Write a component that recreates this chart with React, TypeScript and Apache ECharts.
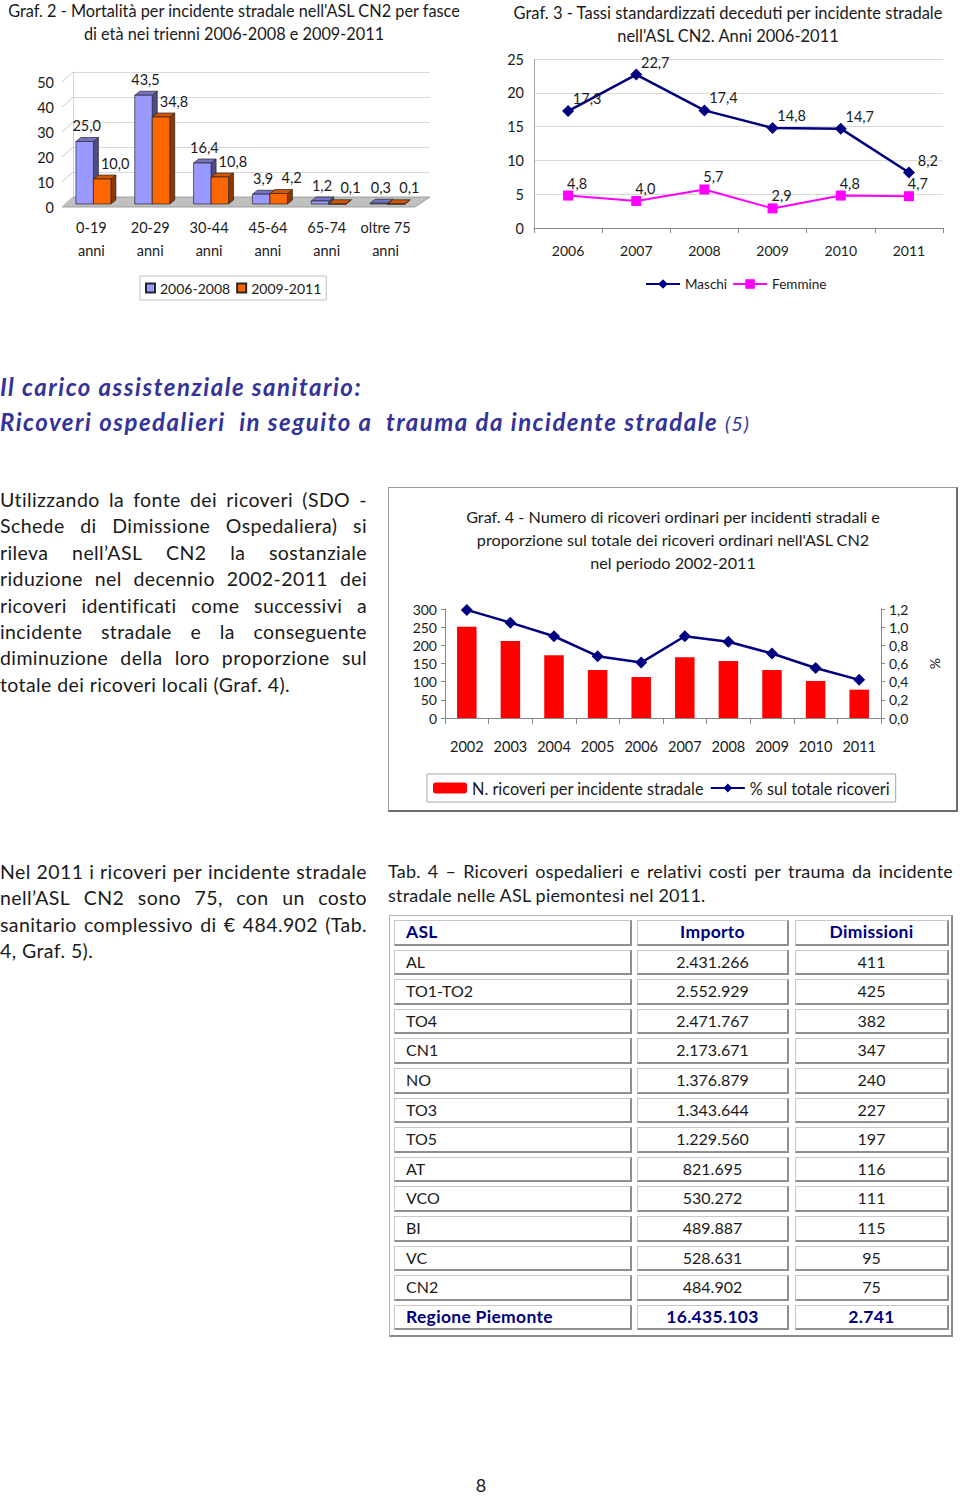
import React, { useEffect, useRef } from "react";
import * as echarts from "echarts";

const FONT = "Lato, 'Open Sans', sans-serif";
const TXT = "#1a1a1a";

// ---------- Graf. 2 ----------
const ageBands = ["0-19\nanni", "20-29\nanni", "30-44\nanni", "45-64\nanni", "65-74\nanni", "oltre 75\nanni"];
const mort0608 = [25.0, 43.5, 16.4, 3.9, 1.2, 0.3];
const mort0911 = [10.0, 34.8, 10.8, 4.2, 0.1, 0.1];
const mortTicks = [0, 10, 20, 30, 40, 50];

// ---------- Graf. 3 ----------
const years3 = ["2006", "2007", "2008", "2009", "2010", "2011"];
const maschi = [17.3, 22.7, 17.4, 14.8, 14.7, 8.2];
const femmine = [4.8, 4.0, 5.7, 2.9, 4.8, 4.7];

// ---------- Graf. 4 ----------
const years4 = ["2002", "2003", "2004", "2005", "2006", "2007", "2008", "2009", "2010", "2011"];
const ricoveri = [251, 212, 173, 132, 113, 167, 157, 132, 102, 78];
const percTotale = [1.19, 1.05, 0.9, 0.68, 0.61, 0.9, 0.84, 0.71, 0.55, 0.42];

// ---------- Tab. 4 ----------
const tabHeader = ["ASL", "Importo", "Dimissioni"];
const aslNames = ["AL", "TO1-TO2", "TO4", "CN1", "NO", "TO3", "TO5", "AT", "VCO", "BI", "VC", "CN2"];
const importi = [2431266, 2552929, 2471767, 2173671, 1376879, 1343644, 1229560, 821695, 530272, 489887, 528631, 484902];
const dimissioni = [411, 425, 382, 347, 240, 227, 197, 116, 111, 115, 95, 75];
const totName = "Regione Piemonte";
const totImporto = 16435103;
const totDimissioni = 2741;

// ---------- Testi ----------
const headingLine1 = "Il carico assistenziale sanitario:";
const headingLine2 = "Ricoveri ospedalieri\u00a0 in seguito a\u00a0 trauma da incidente stradale";
const headingNote = "(5)";
const para1 = [
  "Utilizzando la fonte dei ricoveri (SDO -",
  "Schede di Dimissione Ospedaliera) si",
  "rileva nell\u2019ASL CN2 la sostanziale",
  "riduzione nel decennio 2002-2011 dei",
  "ricoveri identificati come successivi a",
  "incidente stradale e la conseguente",
  "diminuzione della loro proporzione sul",
  "totale dei ricoveri locali (Graf. 4).",
];
const para2 = [
  "Nel 2011 i ricoveri per incidente stradale",
  "nell\u2019ASL CN2 sono 75, con un costo",
  "sanitario complessivo di \u20ac 484.902 (Tab.",
  "4, Graf. 5).",
];
const caption = [
  "Tab. 4 \u2013 Ricoveri ospedalieri e relativi costi per trauma da incidente",
  "stradale nelle ASL piemontesi nel 2011.",
];
const pageNumber = "8";

const comma = (v: number, d = 1) => v.toFixed(d).replace(".", ",");
const thousands = (n: number) => String(n).replace(/\B(?=(\d{3})+(?!\d))/g, ".");

// ---------- 3D bars for Graf. 2 ----------
const BAR_W = 17.5;
const DEPTH_X = 5;
const DEPTH_Y = 4;
const SHIFT_X = 2;
const SHIFT_Y = 3;

function make3dRender(first: boolean, front: string, top: string, side: string) {
  return (params: any, api: any) => {
    const i = api.value(0);
    const v = api.value(1);
    const pt = api.coord([i, v]);
    const base = api.coord([i, 0]);
    const xl = pt[0] + SHIFT_X - (first ? BAR_W : 0);
    const xr = xl + BAR_W;
    const yt = pt[1] - SHIFT_Y;
    const yb = base[1] - SHIFT_Y;
    const ln = { stroke: "#262626", lineWidth: 0.7 };
    return {
      type: "group",
      children: [
        {
          type: "polygon",
          shape: { points: [[xr, yt], [xr + DEPTH_X, yt - DEPTH_Y], [xr + DEPTH_X, yb - DEPTH_Y], [xr, yb]] },
          style: { fill: side, ...ln },
        },
        {
          type: "polygon",
          shape: { points: [[xl, yt], [xl + DEPTH_X, yt - DEPTH_Y], [xr + DEPTH_X, yt - DEPTH_Y], [xr, yt]] },
          style: { fill: top, ...ln },
        },
        {
          type: "rect",
          shape: { x: xl, y: yt, width: BAR_W, height: Math.max(yb - yt, 0.6) },
          style: { fill: front, ...ln },
        },
        {
          type: "text",
          x: (xl + xr) / 2 + (first ? 2 : 13),
          y: yt - 16,
          style: {
            text: comma(v),
            fill: TXT,
            fontSize: 14.5,
            fontFamily: FONT,
            textAlign: "center",
            textVerticalAlign: "middle",
          },
        },
      ],
    };
  };
}

const wallRender = (params: any, api: any) => {
  const cs = params.coordSys;
  const v = api.value(1);
  const y = api.coord([0, v])[1];
  const children: any[] = [];
  if (params.dataIndex === 0) {
    children.push({
      type: "polygon",
      shape: {
        points: [
          [cs.x, y],
          [cs.x + cs.width, y],
          [cs.x + cs.width + 15, y - 10],
          [cs.x + 11, y - 10],
        ],
      },
      style: { fill: "#c0c0c0", stroke: "#a0a0a0", lineWidth: 1 },
    });
  }
  children.push({
    type: "line",
    shape: { x1: cs.x, y1: y, x2: cs.x + 11, y2: y - 10 },
    style: { stroke: "#c8c8c8", lineWidth: 1 },
  });
  return { type: "group", children };
};

const graf2Option: any = {
  animation: false,
  textStyle: { fontFamily: FONT },
  title: {
    text: "Graf. 2 - Mortalit\u00e0 per incidente stradale nell'ASL CN2 per fasce\ndi et\u00e0 nei trienni 2006-2008 e 2009-2011",
    left: 234,
    top: -1,
    padding: 0,
    textAlign: "center",
    textStyle: { fontSize: 16.3, lineHeight: 23, fontWeight: "normal", color: TXT, fontFamily: FONT },
  },
  grid: [
    { left: 62, top: 82, width: 353, height: 125 },
    { left: 73, top: 72, width: 357, height: 125 },
  ],
  xAxis: [
    {
      type: "category",
      gridIndex: 0,
      data: ageBands,
      axisLine: { show: false },
      axisTick: { show: false },
      axisLabel: { interval: 0, fontSize: 14.5, lineHeight: 23, color: TXT, margin: 9 },
    },
    { type: "category", gridIndex: 1, data: ageBands, show: false },
  ],
  yAxis: [
    {
      type: "value",
      gridIndex: 0,
      min: 0,
      max: 50,
      interval: 10,
      axisLine: { show: false },
      axisTick: { show: false },
      splitLine: { show: false },
      axisLabel: { fontSize: 14.5, color: TXT, margin: 8 },
    },
    {
      type: "value",
      gridIndex: 1,
      min: 0,
      max: 50,
      interval: 10,
      axisLine: { show: true, lineStyle: { color: "#d0d0d0" } },
      axisTick: { show: false },
      axisLabel: { show: false },
      splitLine: { show: true, lineStyle: { color: "#d9d9d9" } },
    },
  ],
  legend: {
    left: 140,
    top: 276,
    padding: [5, 5],
    borderColor: "#bfbfbf",
    borderWidth: 1,
    itemWidth: 9,
    itemHeight: 9,
    itemGap: 6,
    textStyle: { fontSize: 14, color: TXT },
    data: [
      { name: "2006-2008", icon: "rect" },
      { name: "2009-2011", icon: "rect" },
    ],
  },
  series: [
    {
      type: "custom",
      name: "wall",
      xAxisIndex: 0,
      yAxisIndex: 0,
      silent: true,
      clip: false,
      z: 1,
      data: mortTicks.map((t) => [0, t]),
      renderItem: wallRender,
    },
    {
      type: "custom",
      name: "2006-2008",
      xAxisIndex: 0,
      yAxisIndex: 0,
      clip: false,
      z: 2,
      itemStyle: { color: "#9999ff", borderColor: "#262626", borderWidth: 0.8 },
      encode: { x: 0, y: 1 },
      data: mort0608.map((v, i) => [i, v]),
      renderItem: make3dRender(true, "#9999ff", "#7474c4", "#4d4d85"),
    },
    {
      type: "custom",
      name: "2009-2011",
      xAxisIndex: 0,
      yAxisIndex: 0,
      clip: false,
      z: 3,
      itemStyle: { color: "#ff6600", borderColor: "#262626", borderWidth: 0.8 },
      encode: { x: 0, y: 1 },
      data: mort0911.map((v, i) => [i, v]),
      renderItem: make3dRender(false, "#ff6600", "#d45500", "#8c3800"),
    },
  ],
};

const graf3Option: any = {
  animation: false,
  textStyle: { fontFamily: FONT },
  title: {
    text: "Graf. 3 - Tassi standardizzati deceduti per incidente stradale\nnell'ASL CN2. Anni 2006-2011",
    left: 248,
    top: 1,
    padding: 0,
    textAlign: "center",
    textStyle: { fontSize: 16.5, lineHeight: 23, fontWeight: "normal", color: TXT, fontFamily: FONT },
  },
  grid: { left: 54, right: 17, top: 59, bottom: 82 },
  xAxis: {
    type: "category",
    data: years3,
    axisLine: { lineStyle: { color: "#868686" } },
    axisTick: { show: true, length: 5, lineStyle: { color: "#868686" } },
    axisLabel: { interval: 0, fontSize: 14, color: TXT, margin: 15 },
  },
  yAxis: {
    type: "value",
    min: 0,
    max: 25,
    interval: 5,
    axisLine: { show: true, lineStyle: { color: "#a6a6a6" } },
    axisTick: { show: false },
    splitLine: { lineStyle: { color: "#d9d9d9" } },
    axisLabel: { fontSize: 14.5, color: TXT, margin: 10 },
  },
  legend: {
    left: 165,
    top: 277,
    padding: 0,
    itemWidth: 34,
    itemHeight: 12,
    itemGap: 5,
    textStyle: { fontSize: 13.5, color: TXT },
    data: ["Maschi", "Femmine"],
  },
  series: [
    {
      name: "Maschi",
      type: "line",
      data: maschi,
      color: "#000080",
      lineStyle: { width: 2.5 },
      symbol: "diamond",
      symbolSize: 12,
      label: {
        show: true,
        position: "top",
        distance: 0,
        offset: [19, 1],
        fontSize: 14.5,
        color: TXT,
        formatter: (p: any) => comma(p.value),
      },
    },
    {
      name: "Femmine",
      type: "line",
      data: femmine,
      color: "#ff00ff",
      lineStyle: { width: 2 },
      symbol: "rect",
      symbolSize: 10,
      label: {
        show: true,
        position: "top",
        distance: 0,
        offset: [9, 0],
        fontSize: 14.5,
        color: TXT,
        formatter: (p: any) => comma(p.value),
      },
    },
  ],
};

const graf4Option: any = {
  animation: false,
  textStyle: { fontFamily: FONT },
  title: {
    text:
      "Graf. 4 - Numero di ricoveri ordinari per incidenti stradali e\nproporzione sul totale dei ricoveri ordinari nell'ASL CN2\nnel periodo 2002-2011",
    left: 285,
    top: 19,
    padding: 0,
    textAlign: "center",
    textStyle: { fontSize: 16.2, lineHeight: 23, fontWeight: "normal", color: TXT, fontFamily: FONT },
  },
  grid: { left: 57, right: 77, top: 123, bottom: 96 },
  legend: {
    left: 39,
    top: 288,
    padding: [6, 6],
    borderColor: "#a6a6a6",
    borderWidth: 1,
    itemWidth: 34,
    itemHeight: 11,
    itemGap: 6,
    textStyle: { fontSize: 16.3, color: TXT },
    data: ["N. ricoveri per incidente stradale", "% sul totale ricoveri"],
  },
  xAxis: {
    type: "category",
    data: years4,
    axisLine: { lineStyle: { color: "#868686" } },
    axisTick: { show: true, length: 6, lineStyle: { color: "#868686" } },
    axisLabel: { interval: 0, fontSize: 14.5, color: TXT, margin: 21 },
  },
  yAxis: [
    {
      type: "value",
      min: 0,
      max: 300,
      interval: 50,
      axisLine: { show: true, lineStyle: { color: "#868686" } },
      axisTick: { show: true, length: 4, lineStyle: { color: "#868686" } },
      splitLine: { show: false },
      axisLabel: { fontSize: 14, color: TXT, margin: 8 },
    },
    {
      type: "value",
      position: "right",
      min: 0,
      max: 1.2,
      interval: 0.2,
      axisLine: { show: true, lineStyle: { color: "#868686" } },
      axisTick: { show: true, length: 4, lineStyle: { color: "#868686" } },
      splitLine: { show: false },
      axisLabel: { fontSize: 14, color: TXT, margin: 8, formatter: (v: number) => comma(v) },
      name: "%",
      nameLocation: "middle",
      nameGap: 47,
      nameRotate: -90,
      nameTextStyle: { fontSize: 14, color: TXT },
    },
  ],
  series: [
    {
      name: "N. ricoveri per incidente stradale",
      type: "bar",
      data: ricoveri,
      barWidth: 19.5,
      itemStyle: { color: "#ff0000" },
    },
    {
      name: "% sul totale ricoveri",
      type: "line",
      yAxisIndex: 1,
      data: percTotale,
      color: "#000080",
      lineStyle: { width: 2.5 },
      symbol: "diamond",
      symbolSize: 12,
    },
  ],
};

function EChart({ option, style }: { option: any; style: React.CSSProperties }) {
  const ref = useRef<HTMLDivElement>(null);
  useEffect(() => {
    const chart = echarts.init(ref.current as HTMLDivElement, undefined, { renderer: "svg" });
    chart.setOption(option);
    return () => chart.dispose();
  }, []);
  return <div ref={ref} style={style} />;
}

function JLine({ text, justify, h }: { text: string; justify: boolean; h: number }) {
  if (!justify) {
    return <div style={{ height: h, lineHeight: h + "px", whiteSpace: "nowrap" }}>{text}</div>;
  }
  const words = text.split(" ");
  return (
    <div
      style={{
        display: "flex",
        justifyContent: "space-between",
        height: h,
        lineHeight: h + "px",
        whiteSpace: "nowrap",
      }}
    >
      {words.map((w, i) => (
        <span key={i}>{w}</span>
      ))}
    </div>
  );
}

function Paragraph({
  lines,
  left,
  top,
  width,
  h,
  fontSize,
  letterSpacing,
}: {
  lines: string[];
  left: number;
  top: number;
  width: number;
  h: number;
  fontSize: number;
  letterSpacing: number;
}) {
  return (
    <div style={{ position: "absolute", left, top, width, fontSize, letterSpacing, color: TXT }}>
      {lines.map((l, i) => (
        <JLine key={i} text={l} justify={i < lines.length - 1} h={h} />
      ))}
    </div>
  );
}

const COL_X = [4, 247, 405];
const COL_W = [238, 152, 154];
const ROW_PITCH = 29.6;
const CELL_H = 25.6;

function Table() {
  const rows: { cells: string[]; strong: boolean }[] = [
    { cells: tabHeader, strong: true },
    ...aslNames.map((n, i) => ({ cells: [n, thousands(importi[i]), thousands(dimissioni[i])], strong: false })),
    { cells: [totName, thousands(totImporto), thousands(totDimissioni)], strong: true },
  ];
  return (
    <div
      style={{
        position: "absolute",
        left: 389,
        top: 915,
        width: 564,
        height: 422,
        boxSizing: "border-box",
        borderStyle: "solid",
        borderWidth: "1px 2px 2px 1px",
        borderColor: "#b5b5b5 #8a8a8a #8a8a8a #b5b5b5",
      }}
    >
      {rows.map((row, r) =>
        row.cells.map((c, k) => (
          <div
            key={r + "-" + k}
            style={{
              position: "absolute",
              left: COL_X[k],
              top: 4 + r * ROW_PITCH,
              width: COL_W[k],
              height: CELL_H,
              boxSizing: "border-box",
              borderStyle: "solid",
              borderWidth: "1px 2px 2px 1px",
              borderColor: "#c8c8c8 #8f8f8f #8f8f8f #c8c8c8",
              textAlign: k === 0 ? "left" : "center",
              paddingLeft: k === 0 ? 11 : 0,
              lineHeight: CELL_H - 3 + "px",
              fontSize: row.strong ? 17.5 : 16,
              fontWeight: row.strong ? 700 : 400,
              letterSpacing: row.strong ? 0.3 : 0,
              color: row.strong ? "#000080" : TXT,
              whiteSpace: "nowrap",
            }}
          >
            {c}
          </div>
        ))
      )}
    </div>
  );
}

export default function App() {
  return (
    <div
      style={{
        position: "absolute",
        left: 0,
        top: 0,
        width: 960,
        height: 1496,
        background: "#ffffff",
        fontFamily: FONT,
        color: TXT,
        overflow: "hidden",
      }}
    >
      <EChart option={graf2Option} style={{ position: "absolute", left: 0, top: 0, width: 480, height: 310 }} />
      <EChart option={graf3Option} style={{ position: "absolute", left: 480, top: 0, width: 480, height: 310 }} />

      <div
        style={{
          position: "absolute",
          left: 0,
          top: 369,
          fontStyle: "italic",
          fontWeight: 700,
          fontSize: 24,
          letterSpacing: 1.5,
          lineHeight: "35px",
          color: "#333399",
          whiteSpace: "nowrap",
        }}
      >
        <div>{headingLine1}</div>
        <div>
          {headingLine2}{" "}
          <span style={{ fontWeight: 400, fontSize: 20, letterSpacing: 1 }}>{headingNote}</span>
        </div>
      </div>

      <Paragraph lines={para1} left={0} top={487} width={367} h={26.4} fontSize={19.5} letterSpacing={0.4} />

      <div
        style={{
          position: "absolute",
          left: 388,
          top: 487,
          width: 570,
          height: 325,
          boxSizing: "border-box",
          borderStyle: "solid",
          borderWidth: "1px 2px 2px 1px",
          borderColor: "#9a9a9a #6e6e6e #6e6e6e #9a9a9a",
        }}
      />
      <EChart option={graf4Option} style={{ position: "absolute", left: 388, top: 486, width: 570, height: 328 }} />

      <Paragraph lines={para2} left={0} top={859} width={367} h={26.4} fontSize={19.5} letterSpacing={0.4} />
      <Paragraph lines={caption} left={388} top={859} width={565} h={24} fontSize={18} letterSpacing={0.2} />

      <Table />

      <div
        style={{
          position: "absolute",
          left: 466,
          top: 1476,
          width: 30,
          height: 19,
          textAlign: "center",
          fontSize: 18,
          lineHeight: "19px",
          color: TXT,
        }}
      >
        {pageNumber}
      </div>
    </div>
  );
}
